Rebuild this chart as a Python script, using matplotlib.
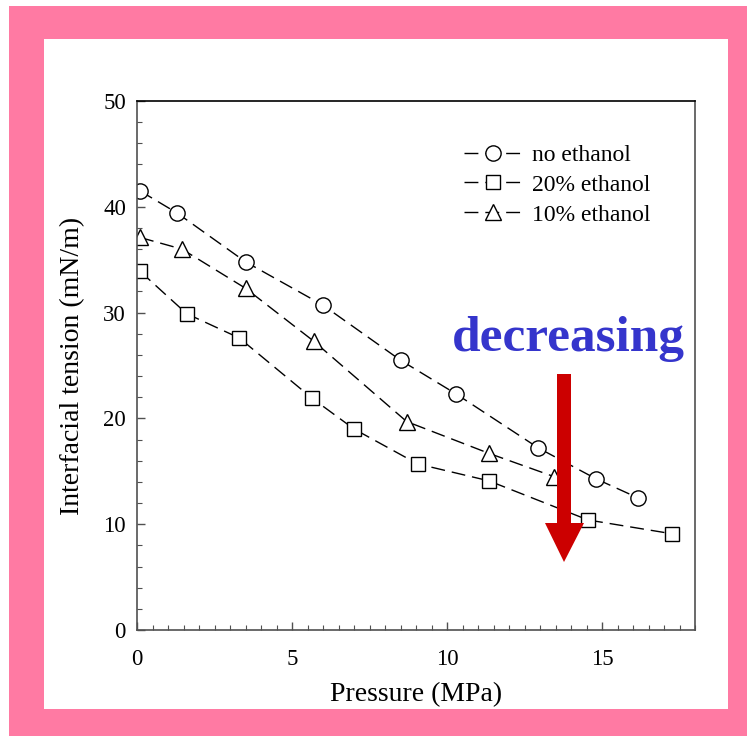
import matplotlib
matplotlib.use("Agg")
import matplotlib.pyplot as plt
from matplotlib.patches import Rectangle, Polygon
from matplotlib.ticker import MultipleLocator

# Interfacial tension vs. pressure for three ethanol contents
p_none = [0.1, 1.3, 3.5, 6.0, 8.5, 10.3, 12.95, 14.8, 16.15]
t_none = [41.5, 39.4, 34.8, 30.7, 25.5, 22.3, 17.2, 14.3, 12.5]

p_20 = [0.1, 1.6, 3.3, 5.65, 7.0, 9.05, 11.35, 14.55, 17.25]
t_20 = [33.9, 29.9, 27.6, 21.9, 19.0, 15.7, 14.1, 10.4, 9.1]

p_10 = [0.1, 1.45, 3.5, 5.7, 8.7, 11.35, 13.45]
t_10 = [37.1, 36.0, 32.3, 27.3, 19.7, 16.7, 14.5]

labels = ["no ethanol", "20% ethanol", "10% ethanol"]
x_ticks = [0, 5, 10, 15]
y_ticks = [0, 10, 20, 30, 40, 50]

W, H = 747, 736
fig = plt.figure(figsize=(W / 100, H / 100), dpi=100)
fig.patch.set_facecolor("white")


def fx(px):
    return px / W


def fy(py):
    return 1 - py / H


# pink slide frame behind everything
pink = "#FF7AA3"
fig.patches.append(Rectangle((fx(9), fy(736)), fx(747) - fx(9), fy(6) - fy(736),
                             transform=fig.transFigure, facecolor=pink,
                             edgecolor="none", zorder=-20))
fig.patches.append(Rectangle((fx(44), fy(709)), fx(728) - fx(44), fy(39) - fy(709),
                             transform=fig.transFigure, facecolor="white",
                             edgecolor="none", zorder=-10))

ax = fig.add_axes([fx(137), fy(630), fx(695) - fx(137), fy(101) - fy(630)])
ax.set_facecolor("none")
ax.set_zorder(1)

serif = ["Liberation Serif", "DejaVu Serif"]
dash = (0, (10, 5))
common = dict(color="black", lw=1.0, markerfacecolor="white",
              markeredgecolor="black", markeredgewidth=1.0, linestyle=dash)

ax.plot(p_none, t_none, marker="o", markersize=11, label=labels[0], **common)
ax.plot(p_20, t_20, marker="s", markersize=10, label=labels[1], **common)
ax.plot(p_10, t_10, marker="^", markersize=11.5, label=labels[2], **common)

ax.set_xlim(0, 18)
ax.set_ylim(0, 50)
ax.set_xticks(x_ticks)
ax.set_yticks(y_ticks)
ax.xaxis.set_minor_locator(MultipleLocator(0.5))
ax.yaxis.set_minor_locator(MultipleLocator(2))

spine_col = "#505050"
for side in ["left", "bottom", "right"]:
    ax.spines[side].set_color(spine_col)
    ax.spines[side].set_linewidth(1.2)
ax.spines["top"].set_color("black")
ax.spines["top"].set_linewidth(1.2)

ax.tick_params(axis="both", which="both", direction="in", color=spine_col)
ax.tick_params(axis="x", which="major", length=6, width=1.0, pad=13.5)
ax.tick_params(axis="x", which="minor", length=3.5, width=0.8)
ax.tick_params(axis="y", which="major", length=6, width=1.0, pad=8)
ax.tick_params(axis="y", which="minor", length=3.5, width=0.8)
for lab in ax.get_xticklabels() + ax.get_yticklabels():
    lab.set_family(serif)
    lab.set_fontsize(16.5)

ax.set_xlabel("Pressure (MPa)", family=serif, fontsize=20, labelpad=9)
ax.set_ylabel("Interfacial tension (mN/m)", family=serif, fontsize=20, labelpad=13)

leg = ax.legend(loc="upper left", bbox_to_anchor=(fx(455), fy(135)),
                bbox_transform=fig.transFigure, frameon=False,
                prop={"family": serif, "size": 17}, handlelength=2.4,
                handletextpad=0.45, labelspacing=0.35, borderaxespad=0)

# annotation: trend text and arrow
fig.text(fx(452), fy(351), "decreasing", family=serif, fontsize=37,
         fontweight="bold", color="#3535CC", ha="left", va="baseline", zorder=5)
arrow_px = [(557, 374), (571, 374), (571, 523), (584, 523), (564, 562),
            (545, 523), (557, 523)]
fig.patches.append(Polygon([(fx(x), fy(y)) for x, y in arrow_px], closed=True,
                           transform=fig.transFigure, facecolor="#CC0000",
                           edgecolor="none", zorder=5))

fig.savefig("out.png", dpi=100)
